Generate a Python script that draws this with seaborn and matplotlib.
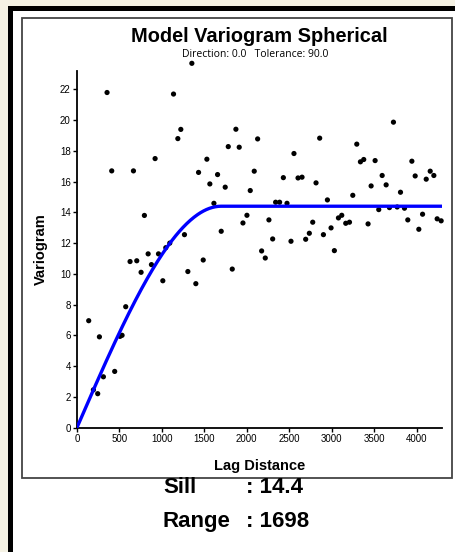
import numpy as np
import pandas as pd
import seaborn as sns
import matplotlib.pyplot as plt
from matplotlib.patches import Rectangle

lag = [138, 193, 244, 264, 311, 354, 409, 444, 507, 531, 574, 625, 665, 704, 755,
       794, 838, 877, 920, 960, 1011, 1046, 1093, 1137, 1188, 1223, 1266, 1306, 1353, 1400,
       1432, 1487, 1530, 1565, 1613, 1656, 1699, 1746, 1782, 1829, 1872, 1911, 1955, 2002,
       2041, 2088, 2128, 2175, 2218, 2261, 2305, 2340, 2387, 2431, 2474, 2521, 2556, 2604,
       2651, 2694, 2737, 2777, 2816, 2859, 2903, 2950, 2993, 3032, 3080, 3119, 3166, 3210,
       3249, 3296, 3339, 3378, 3429, 3465, 3512, 3555, 3595, 3642, 3681, 3728, 3772, 3811,
       3858, 3897, 3945, 3984, 4027, 4071, 4114, 4161, 4204, 4243, 4290]
gamma = [6.95, 2.45, 2.2, 5.9, 3.3, 21.8, 16.7, 3.65, 5.93, 6.0, 7.86, 10.8, 16.7, 10.85, 10.1,
         13.8, 11.3, 10.6, 17.5, 11.3, 9.55, 11.7, 12.0, 21.7, 18.8, 19.4, 12.55, 10.15, 23.7, 9.36,
         16.6, 10.9, 17.46, 15.85, 14.59, 16.46, 12.77, 15.64, 18.28, 10.31, 19.41, 18.24, 13.31, 13.81,
         15.42, 16.68, 18.78, 11.49, 11.03, 13.51, 12.27, 14.66, 14.66, 16.26, 14.59, 12.12, 17.83, 16.24,
         16.29, 12.25, 12.64, 13.36, 15.92, 18.83, 12.55, 14.81, 12.99, 11.51, 13.64, 13.81, 13.29, 13.36,
         15.11, 18.44, 17.29, 17.44, 13.25, 15.72, 17.37, 14.18, 16.40, 15.79, 14.31, 19.87, 14.35, 15.31,
         14.27, 13.51, 17.33, 16.37, 12.90, 13.88, 16.16, 16.68, 16.40, 13.58, 13.45]

# fitted spherical model
sill = 14.4
model_range = 1698
x_ticks = [0, 500, 1000, 1500, 2000, 2500, 3000, 3500, 4000]
y_ticks = [0, 2, 4, 6, 8, 10, 12, 14, 16, 18, 20, 22]

pts = pd.DataFrame({'lag': lag, 'gamma': gamma})
h = np.linspace(0, 4300, 500)
r = np.minimum(h / model_range, 1.0)
curve = pd.DataFrame({'lag': h, 'gamma': sill * (1.5 * r - 0.5 * r ** 3)})

sns.set_style('ticks')
plt.rcParams['font.family'] = ['Liberation Sans', 'DejaVu Sans']
plt.rcParams['text.color'] = 'black'
plt.rcParams['axes.labelcolor'] = 'black'

W, H = 456, 552
fig = plt.figure(figsize=(W / 100, H / 100), dpi=100)
fig.patch.set_facecolor('#f5f2e4')

def fx(x):
    return x / W

def fy(y):
    return 1 - y / H

# black frame on top/left, white page, grey panel box
fig.add_artist(Rectangle((fx(8), 0), 1 - fx(8), fy(5.5), transform=fig.transFigure,
                         facecolor='black', edgecolor='none', zorder=-3))
fig.add_artist(Rectangle((fx(13), 0), 1 - fx(13), fy(10.5), transform=fig.transFigure,
                         facecolor='white', edgecolor='none', zorder=-2))
fig.add_artist(Rectangle((fx(22), fy(478)), fx(452) - fx(22), fy(17.5) - fy(478),
                         transform=fig.transFigure, fill=False, edgecolor='#444444',
                         lw=1.3, zorder=-1))

ax = fig.add_axes([fx(77), fy(427.5), fx(442) - fx(77), fy(71) - fy(427.5)])
ax.set_facecolor('none')

sns.scatterplot(data=pts, x='lag', y='gamma', color='black', s=14, edgecolor='none',
                clip_on=False, zorder=2, ax=ax)
sns.lineplot(data=curve, x='lag', y='gamma', color='#0000ff', lw=2.4, zorder=3, ax=ax)

ax.set_xlim(0, 4300)
ax.set_ylim(0, 23.2)
ax.set_xticks(x_ticks)
ax.set_yticks(y_ticks)
ax.set_xlabel('')
ax.set_ylabel('')
ax.tick_params(length=3, width=1, labelsize=7, pad=1.5, colors='black')
for s in ['left', 'bottom']:
    ax.spines[s].set_linewidth(1.3)
    ax.spines[s].set_color('black')
sns.despine(ax=ax)

fig.text(fx(259.5), fy(42), 'Model Variogram Spherical', ha='center', va='baseline',
         fontsize=14.4, fontweight='bold')
fig.text(fx(255), fy(57), 'Direction: 0.0   Tolerance: 90.0', ha='center', va='baseline',
         fontsize=7.5, family=['Open Sans', 'DejaVu Sans'])
fig.text(fx(259.5), fy(466), 'Lag Distance', ha='center', va='center',
         fontsize=10.5, fontweight='bold')
fig.text(fx(41), fy(249), 'Variogram', ha='center', va='center', rotation=90,
         fontsize=10.5, fontweight='bold')

fig.text(fx(163), fy(493), 'Sill', ha='left', va='baseline', fontsize=16, fontweight='bold')
fig.text(fx(246), fy(493), ': %.1f' % sill, ha='left', va='baseline', fontsize=16, fontweight='bold')
fig.text(fx(163), fy(527), 'Range', ha='left', va='baseline', fontsize=16, fontweight='bold')
fig.text(fx(246), fy(527), ': %d' % model_range, ha='left', va='baseline', fontsize=16, fontweight='bold')

plt.savefig('out.png', dpi=100, facecolor=fig.get_facecolor())
plt.close()
